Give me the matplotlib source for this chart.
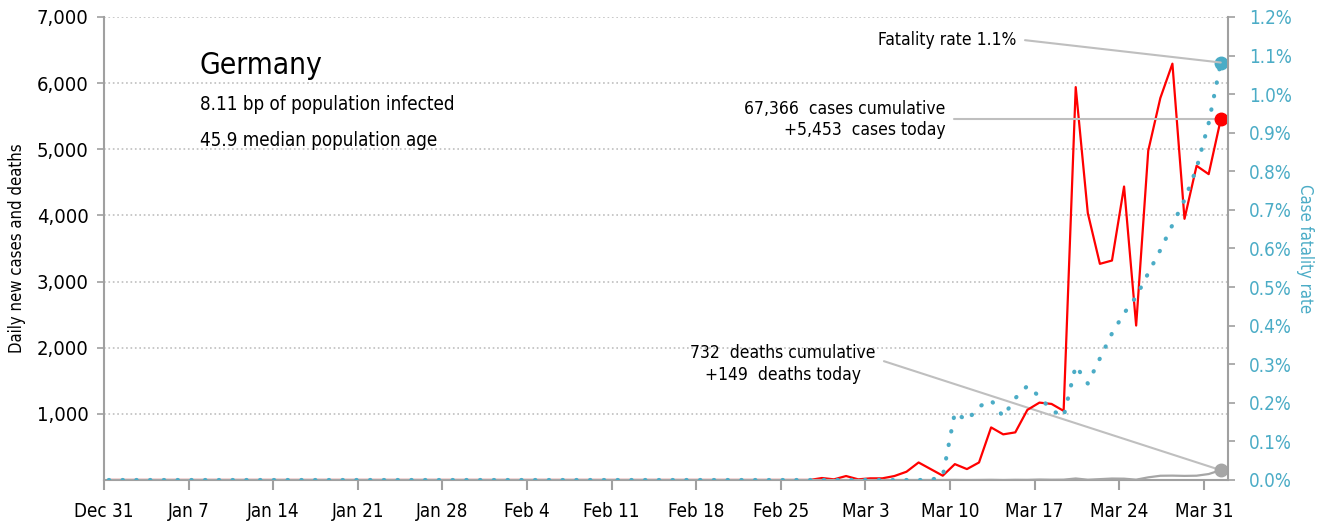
import numpy as np
import matplotlib
matplotlib.use("Agg")
import matplotlib.pyplot as plt

# no narrow Arial here, condensed DejaVu is the closest
plt.rcParams["font.family"] = ["DejaVu Sans"]
plt.rcParams["font.stretch"] = "condensed"

# days since Dec 31 (day 0) up to Apr 1 (day 92)
days = np.arange(93)

new_cases = [0] * 59 + [
    30, 10, 60, 10, 25, 25, 60, 125, 265, 165, 65,          # Feb 28 - Mar 9
    240, 165, 265, 795, 690, 720, 1060, 1170, 1150, 1045,    # Mar 10 - Mar 19
    5940, 4035, 3268, 3318, 4437, 2335, 4977, 5774, 6294,    # Mar 20 - Mar 28
    3949, 4750, 4624, 5453]                                  # Mar 29 - Apr 1

new_deaths = [0] * 70 + [
    2, 0, 1, 3, 0, 3, 2, 7, 4, 5,
    23, 4, 13, 22, 20, 5, 40, 64, 66, 62, 65, 90, 149]

fatality_pct = [0.0] * 69 + [
    0.01, 0.175, 0.154, 0.19, 0.207, 0.164, 0.212, 0.244, 0.216, 0.181, 0.164,
    0.296, 0.25, 0.315, 0.38, 0.432, 0.475, 0.536, 0.596, 0.661, 0.726,
    0.808, 0.925, 1.082]

tick_days = np.arange(0, 92, 7)
tick_labels = ["Dec 31", "Jan 7", "Jan 14", "Jan 21", "Jan 28", "Feb 4", "Feb 11",
               "Feb 18", "Feb 25", "Mar 3", "Mar 10", "Mar 17", "Mar 24", "Mar 31"]

teal = "#4BACC6"
grey = "#A6A6A6"
x = days + 0.4

fig = plt.figure(figsize=(13.24, 5.21), dpi=100)
ax = fig.add_axes([0.0785, 0.0787, 0.849, 0.8887])
ax2 = ax.twinx()

ax.plot(x, new_cases, color="red", lw=1.6, zorder=3)
ax.plot(x, new_deaths, color=grey, lw=1.6, zorder=3)
ax.plot(x[-1], new_cases[-1], "o", color="red", ms=9, zorder=4)
ax.plot(x[-1], new_deaths[-1], "o", color=grey, ms=9, zorder=4)

ax2.plot(x, fatality_pct, color=teal, lw=3, linestyle=(0, (0.1, 3.2)),
         dash_capstyle="round")
ax2.plot(x[-1], fatality_pct[-1], "o", color=teal, ms=9)

ax.set_xlim(0, 93)
ax.set_ylim(0, 7000)
ax2.set_ylim(0, 1.2)

ax.set_yticks(np.arange(1000, 7001, 1000))
ax.set_yticklabels([f"{v:,}" for v in range(1000, 7001, 1000)])
ax.yaxis.grid(True, linestyle=":", color="#BFBFBF", lw=1.2)
ax.set_xticks(tick_days)
ax.set_xticklabels(tick_labels)

ax2.set_yticks(np.arange(0, 1.21, 0.1))
ax2.set_yticklabels([f"{v:.1f}%" for v in np.arange(0, 1.21, 0.1)])

for a in (ax, ax2):
    for s in a.spines.values():
        s.set_color("#A0A0A0")
        s.set_linewidth(1.5)
    a.spines["top"].set_visible(False)
ax.spines["right"].set_visible(False)
ax2.spines["left"].set_visible(False)
ax2.spines["bottom"].set_visible(False)

ax.tick_params(axis="y", length=5, width=1.2, color="#A0A0A0", labelsize=14.5, pad=6)
ax.tick_params(axis="x", length=7, width=1.5, color="#A0A0A0", labelsize=13.5, pad=9)
ax2.tick_params(axis="y", length=5, width=1.2, color="#A0A0A0", labelsize=13.5,
                labelcolor=teal, pad=10)

ax.set_ylabel("Daily new cases and deaths", fontsize=12, labelpad=8)
ax2.set_ylabel("Case fatality rate", fontsize=12, color=teal, rotation=270, labelpad=16)

ax.text(0.0854, 0.877, "Germany", transform=ax.transAxes, fontsize=21.5, va="baseline")
ax.text(0.0854, 0.799, "8.11 bp of population infected", transform=ax.transAxes,
        fontsize=13.5, va="baseline")
ax.text(0.0854, 0.721, "45.9 median population age", transform=ax.transAxes,
        fontsize=13.5, va="baseline")

line = dict(arrowstyle="-", color="#BFBFBF", lw=1.5, shrinkA=4, shrinkB=0,
            connectionstyle="arc,angleA=0,angleB=0,armA=8,armB=0,rad=0")

ax2.annotate("Fatality rate 1.1%", xy=(x[-1], fatality_pct[-1]),
             xytext=(0.812, 0.95), textcoords="axes fraction",
             ha="right", va="center", fontsize=12.5,
             arrowprops=dict(line, relpos=(1, 0.5)))
ax.annotate("67,366  cases cumulative\n+5,453  cases today",
            xy=(x[-1], new_cases[-1]), xytext=(0.749, 0.779),
            textcoords="axes fraction", ha="right", va="center",
            multialignment="right", fontsize=12.5, linespacing=1.25,
            arrowprops=dict(line, relpos=(1, 0.5)))
ax.annotate("732  deaths cumulative\n+149  deaths today",
            xy=(x[-1], new_deaths[-1]), xytext=(0.604, 0.25),
            textcoords="axes fraction", ha="center", va="center",
            multialignment="center", fontsize=12.5, linespacing=1.25,
            arrowprops=dict(line, relpos=(1, 0.58)), zorder=2)

fig.savefig("out.png", dpi=100)
